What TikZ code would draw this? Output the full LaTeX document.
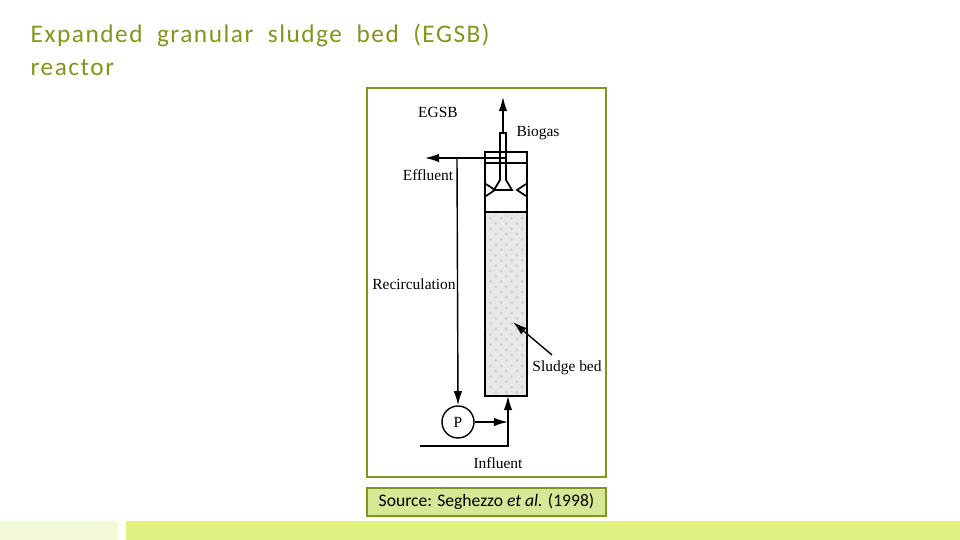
\documentclass[tikz,border=0pt]{standalone}
\usepackage{fontspec}
\setmainfont{Liberation Serif}
\newfontfamily\titlefont{Carlito}
\newfontfamily\titlewide[LetterSpace=6]{Carlito}
\usetikzlibrary{arrows.meta,patterns}
\definecolor{olive}{RGB}{128,150,30}
\definecolor{srcfill}{RGB}{214,232,150}
\definecolor{barA}{RGB}{242,250,215}
\definecolor{barB}{RGB}{225,240,130}
\begin{document}
\begin{tikzpicture}[x=0.01cm,y=-0.01cm,
	lbl/.style={inner sep=0pt,font=\fontsize{4.4}{5}\selectfont},
	flow/.style={line width=0.4pt,-{Latex[length=4pt,width=2.4pt]}},
	wall/.style={line width=0.5pt}]
	\useasboundingbox (0,0) rectangle (960,540);
	% title
	\node[anchor=west,inner sep=0pt,text=olive,font=\titlewide\fontsize{7.2}{8}\selectfont] (title1) at (30,35) {Expanded\ \ granular\ \ sludge\ \ bed\ \ (EGSB)};
	\node[anchor=west,inner sep=0pt,text=olive,font=\titlewide\fontsize{7.2}{8}\selectfont] (title2) at (30,68) {reactor};
	% frame and source
	\draw[olive,line width=0.4pt] (367,88) rectangle (606,477);
	\draw[olive,line width=0.4pt,fill=srcfill] (367,488) rectangle (606,516);
	\node[inner sep=0pt,font=\titlefont\fontsize{5}{6}\selectfont] (src) at (486.5,502) {Source: Seghezzo \textit{et al.} (1998)};
	\fill[barA] (0,521) rectangle (118,540);
	\fill[barB] (126,521) rectangle (960,540);
	% reactor
	\fill[gray!18] (485,212) rectangle (527,396);
	\fill[pattern=crosshatch dots,pattern color=gray!35] (485,212) rectangle (527,396);
	\draw[wall] (485,152) rectangle (527,396);
	\draw[wall] (485,212) -- (527,212);
	\draw[wall] (485,163) -- (527,163);
	% gas collector
	\draw[wall] (500,133) -- (500,180) -- (494,190) -- (512,190) -- (506,180) -- (506,133) -- cycle;
	\draw[wall] (486,184) -- (495,190) -- (486,196);
	\draw[wall] (526,184) -- (517,190) -- (526,196);
	\coordinate (gas) at (503,133);
	\coordinate (gastop) at (503,97);
	\draw[flow] (gas) -- (gastop);
	% effluent and recirculation
	\coordinate (effin) at (505,158);
	\coordinate (effout) at (425,158);
	\coordinate (rec) at (457,158);
	\node[draw,circle,line width=0.4pt,minimum size=0.32cm,inner sep=0pt,font=\fontsize{4.4}{5}\selectfont] (pump) at (458,422) {P};
	\draw[flow] (effin) -- (effout);
	\draw[flow] (rec) -- (pump.north);
	\coordinate (join) at (508,422);
	\draw[flow] (pump.east) -- (join);
	\coordinate (infl) at (420,446);
	\coordinate (bottom) at (508,396);
	\draw[flow] (infl) -| (bottom);
	% sludge bed pointer
	\coordinate (sbtail) at (552,355);
	\coordinate (sbhead) at (513,322);
	\draw[flow] (sbtail) -- (sbhead);
	% labels
	\node[lbl] (egsb) at (438,112) {EGSB};
	\node[lbl] (biogas) at (538,133) {Biogas};
	\node[lbl] (effluent) at (428,175) {Effluent};
	\node[lbl] (recirc) at (414,284) {Recirculation};
	\node[lbl] (sludge) at (567,368) {Sludge bed};
	\node[lbl] (influent) at (498,463) {Influent};
\end{tikzpicture}
\end{document}
